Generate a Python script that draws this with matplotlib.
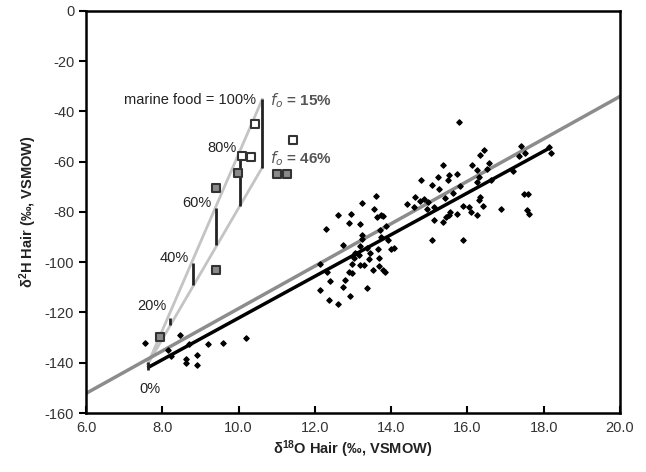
import matplotlib
matplotlib.use("Agg")
import matplotlib.pyplot as plt

plt.rcParams['font.family'] = ['Liberation Sans', 'DejaVu Sans']
plt.rcParams['axes.unicode_minus'] = False

# hair samples (d18O, d2H)
hair_o = [15.79, 17.41, 17.52, 17.35, 16.43, 16.34, 16.56, 16.52, 16.12, 16.25,
          15.36, 15.51, 15.73, 15.22, 15.48, 14.78, 15.07, 15.80, 15.25, 16.30,
          16.62, 17.19, 16.25, 15.62, 14.63, 14.42, 14.77, 14.87, 14.96, 14.59,
          14.94, 15.12, 15.42, 16.34, 16.31, 16.41, 15.89, 16.04, 16.10, 16.26,
          16.87, 15.12, 15.36, 15.51, 15.55, 15.73, 15.45, 15.07, 15.89, 17.48,
          17.58, 17.57, 17.61, 18.13, 18.18,
          13.60, 13.24, 13.56, 12.62, 12.95, 13.63, 13.73, 13.80, 12.89, 13.19,
          13.87, 12.29, 13.72, 13.24, 13.24, 13.73, 13.93, 12.75, 13.19, 13.38,
          13.65, 14.00, 14.07, 13.06, 13.17, 13.45, 13.03, 13.41, 13.67, 12.14,
          12.97, 13.19, 13.28, 13.68, 12.32, 12.89, 12.97, 13.52, 13.80, 13.85,
          12.80, 12.40, 12.74, 13.37, 12.14, 12.93, 12.36, 12.60,
          7.55, 8.47, 8.16, 8.22, 8.69, 9.21, 9.60, 10.19, 8.62, 8.62, 8.90, 8.92]
hair_h = [-44.1, -53.7, -56.4, -57.8, -55.4, -57.4, -60.4, -62.7, -61.4, -63.4,
          -61.4, -65.1, -64.7, -66.0, -67.3, -67.3, -69.1, -69.7, -70.7, -66.0,
          -67.3, -63.6, -68.0, -72.4, -74.2, -76.9, -75.6, -75.0, -76.0, -78.0,
          -79.0, -78.2, -74.6, -74.0, -75.3, -77.7, -77.7, -78.2, -80.0, -81.3,
          -79.0, -83.0, -83.9, -81.0, -80.0, -80.9, -81.9, -91.2, -91.2, -72.9,
          -72.9, -79.3, -80.6, -54.1, -56.7,
          -73.7, -76.6, -78.9, -81.3, -80.9, -81.9, -81.3, -81.7, -84.2, -84.9,
          -85.5, -86.6, -87.3, -89.2, -90.6, -89.9, -91.0, -93.2, -93.6, -94.5,
          -94.9, -94.9, -94.5, -96.3, -97.2, -96.5, -98.5, -98.9, -98.5, -100.8,
          -100.5, -101.2, -101.2, -101.6, -103.9, -103.9, -104.3, -103.2, -102.9, -103.9,
          -107.2, -107.6, -109.8, -110.1, -110.9, -113.5, -115.1, -116.5,
          -132.1, -128.8, -135.1, -137.5, -132.4, -132.4, -132.1, -130.0, -138.4, -140.1, -137.0, -141.0]

# marine-diet samples (open and filled squares)
open_o = [10.44, 11.42, 10.09, 10.32]
open_h = [-45.1, -51.4, -57.8, -58.0]
fill_o = [9.98, 11.00, 11.27, 9.40, 9.41, 7.94]
fill_h = [-64.4, -65.0, -65.0, -70.6, -103.2, -129.7]

# lines
gmwl_x = [6.0, 20.0]
gmwl_y = [-152.2, -34.0]
fit_x = [7.65, 18.1]
fit_y = [-141.7, -55.0]
mix_upper_x = [7.62, 10.62]
mix_upper_y = [-140.5, -35.2]
mix_lower_x = [7.62, 10.62]
mix_lower_y = [-140.5, -62.3]

# marine food fraction bars
frac_labels = ['0%', '20%', '40%', '60%', '80%', 'marine food = 100%']
frac_x = [7.62, 8.19, 8.80, 9.41, 10.03, 10.62]
frac_top = [-139.7, -122.0, -100.3, -78.6, -58.0, -35.2]
frac_bot = [-143.0, -125.1, -109.2, -93.2, -77.7, -62.3]
label_x = [7.68, 8.10, 8.69, 9.30, 9.95, 10.46]
label_y = [-150.5, -117.5, -98.5, -76.6, -54.7, -35.5]

fig = plt.figure(figsize=(6.46, 4.72), dpi=100)
ax = fig.add_axes([0.1331, 0.125, 0.8266, 0.8517])

ax.plot(mix_upper_x, mix_upper_y, color='#c4c4c4', lw=2.0, zorder=1)
ax.plot(mix_lower_x, mix_lower_y, color='#c4c4c4', lw=2.0, zorder=1)
ax.plot(gmwl_x, gmwl_y, color='#8c8c8c', lw=2.5, zorder=2)
ax.plot(fit_x, fit_y, color='black', lw=2.5, zorder=3)

ax.vlines(frac_x, frac_bot, frac_top, color='#222222', lw=2.0, zorder=3)

ax.scatter(hair_o, hair_h, marker='D', s=7, color='black', zorder=4)
ax.scatter(open_o, open_h, marker='s', s=36, facecolor='white',
           edgecolor='#333333', linewidths=1.5, zorder=5)
ax.scatter(fill_o, fill_h, marker='s', s=36, facecolor='#8a8a8a',
           edgecolor='#333333', linewidths=1.5, zorder=5)

for i, lab in enumerate(frac_labels):
    ha = 'center' if i == 0 else 'right'
    ax.text(label_x[i], label_y[i], lab, ha=ha, va='center', fontsize=10.5,
            color='#222222')

ax.text(10.83, -35.5, r'$f_o$ = 15%', ha='left', va='center', fontsize=11,
        fontweight='bold', color='#555555')
ax.text(10.83, -58.7, r'$f_o$ = 46%', ha='left', va='center', fontsize=11,
        fontweight='bold', color='#555555')

ax.set_xlim(6, 20)
ax.set_ylim(-160, 0)
ax.set_xticks([6, 8, 10, 12, 14, 16, 18, 20])
ax.set_xticklabels(['6.0', '8.0', '10.0', '12.0', '14.0', '16.0', '18.0', '20.0'])
ax.set_yticks(range(-160, 1, 20))
ax.tick_params(axis='x', direction='in', length=5, width=1.5, labelsize=10.5,
               labelcolor='#333333', pad=6)
ax.tick_params(axis='y', direction='out', length=5, width=1.5, labelsize=10.5,
               labelcolor='#333333')
for s in ax.spines.values():
    s.set_linewidth(1.8)

ax.set_xlabel(r'$\mathregular{\delta^{18}}$O Hair (‰, VSMOW)', fontsize=10.5,
              fontweight='bold', color='#222222', labelpad=2)
ax.set_ylabel(r'$\mathregular{\delta^{2}}$H Hair (‰, VSMOW)', fontsize=10.5,
              fontweight='bold', color='#222222', labelpad=4)

fig.savefig('out.png', dpi=100)
